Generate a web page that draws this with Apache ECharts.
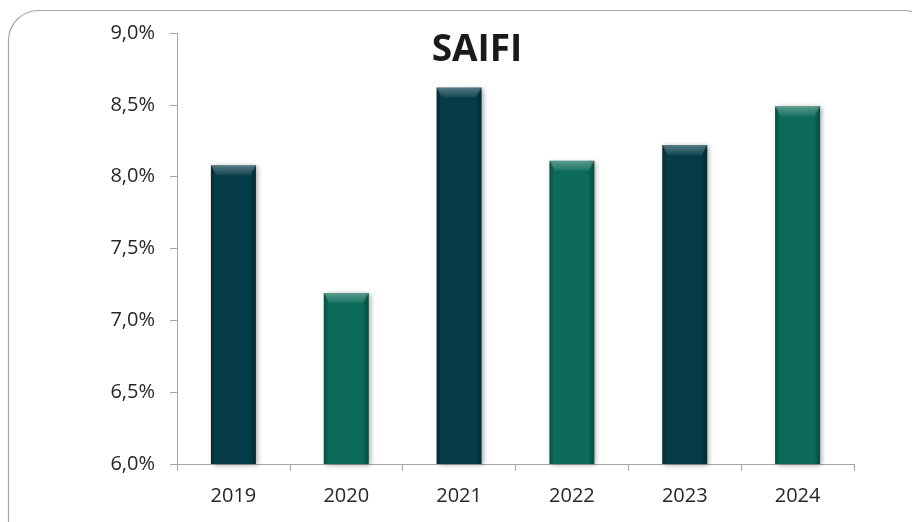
<!DOCTYPE html>
<html>
<head>
<meta charset="utf-8">
<script src="https://cdn.jsdelivr.net/npm/echarts@6/dist/echarts.min.js"></script>
<style>
html,body{margin:0;padding:0;background:#fff;}
#chart{width:912px;height:522px;}
</style>
</head>
<body>
<div id="chart"></div>
<script>
var titleText = 'SAIFI';
var categories = ['2019', '2020', '2021', '2022', '2023', '2024'];
var saifiValues = [8.08, 7.19, 8.62, 8.11, 8.22, 8.49];
var yMin = 6.0, yMax = 9.0, yStep = 0.5;

var darkColor = ['#063c47', '#022a32'];
var greenColor = ['#0b6b58', '#064c3e'];

function barStyle(i) {
  var c = (i % 2 === 0) ? darkColor : greenColor;
  return {
    color: new echarts.graphic.LinearGradient(0, 0, 1, 0, [
      {offset: 0, color: c[1]},
      {offset: 0.1, color: c[0]},
      {offset: 0.86, color: c[0]},
      {offset: 1, color: c[1]}
    ]),
    shadowColor: 'rgba(0,0,0,0.35)',
    shadowBlur: 5,
    shadowOffsetX: 2,
    shadowOffsetY: 1
  };
}

var chart = echarts.init(document.getElementById('chart'), null, {renderer: 'canvas'});
chart.setOption({
  backgroundColor: '#ffffff',
  animation: false,
  graphic: [{
    type: 'rect',
    shape: {x: 8.5, y: 10.5, width: 925, height: 540, r: 30},
    style: {fill: 'none', stroke: '#a6a6a6', lineWidth: 1.2},
    silent: true,
    z: -1
  }],
  title: {
    text: titleText,
    left: 472,
    top: 27,
    textAlign: 'center',
    textStyle: {fontFamily: 'Open Sans', fontWeight: 'bold', fontSize: 37, color: '#1a1a1a'}
  },
  grid: {left: 177, right: 58, top: 33, bottom: 58, containLabel: false},
  xAxis: {
    type: 'category',
    data: categories,
    axisLine: {lineStyle: {color: '#a6a6a6', width: 1}},
    axisTick: {show: true, length: 7, lineStyle: {color: '#a6a6a6'}},
    axisLabel: {margin: 22, fontFamily: 'Open Sans', fontSize: 20, color: '#262626'},
    splitLine: {show: false}
  },
  yAxis: {
    type: 'value',
    min: yMin,
    max: yMax,
    interval: yStep,
    axisLine: {show: true, lineStyle: {color: '#a6a6a6', width: 1}},
    axisTick: {show: true, length: 7, lineStyle: {color: '#a6a6a6'}},
    axisLabel: {
      margin: 22,
      fontFamily: 'Open Sans',
      fontSize: 20,
      color: '#262626',
      formatter: function (v) { return v.toFixed(1).replace('.', ',') + '%'; }
    },
    splitLine: {show: false}
  },
  series: [{
    type: 'bar',
    barWidth: 45,
    data: saifiValues.map(function (v, i) {
      return {value: v, itemStyle: barStyle(i)};
    })
  }, {
    type: 'pictorialBar',
    symbol: 'path://M0,0 L100,0 L88,10 L12,10 Z',
    symbolSize: [45, 10],
    symbolPosition: 'end',
    symbolOffset: [0, 0],
    silent: true,
    z: 3,
    itemStyle: {
      color: new echarts.graphic.LinearGradient(0, 0, 0, 1, [
        {offset: 0, color: 'rgba(255,255,255,0.32)'},
        {offset: 1, color: 'rgba(255,255,255,0.06)'}
      ])
    },
    data: saifiValues
  }]
});
</script>
</body>
</html>
